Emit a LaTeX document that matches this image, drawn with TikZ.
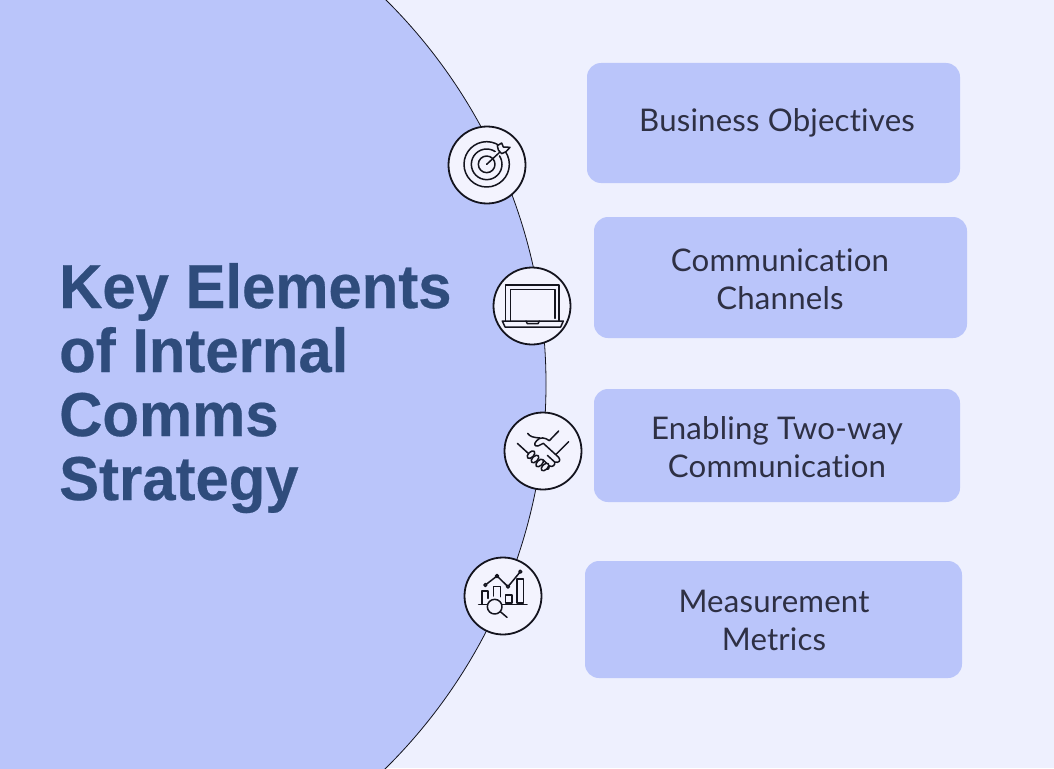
\documentclass[tikz,border=0pt]{standalone}
\usepackage{fontspec}
\setmainfont{Lato}[Ligatures=NoCommon,LetterSpace=0.6]
\newfontfamily\titlefont{Liberation Sans}[BoldFont={Liberation Sans Bold},BoldFeatures={FakeStretch=0.965,FakeBold=0.4}]
\definecolor{bgc}{HTML}{EEF0FE}
\definecolor{bluec}{HTML}{BAC5FA}
\definecolor{titlec}{HTML}{2F4C7C}
\definecolor{bodyc}{HTML}{2E3044}
\definecolor{iconbg}{HTML}{F3F3FE}
\definecolor{inkc}{HTML}{14141E}
\tikzset{
 x=1pt,y=-1pt,
 card/.style={fill=bluec,rounded corners=14pt,draw=none},
 cardtext/.style={font=\fontsize{31.2}{38}\selectfont,text=bodyc,align=center,inner sep=0pt},
 badge/.style={circle,draw=inkc,line width=1.8pt,fill=iconbg,minimum size=77pt,inner sep=0pt},
 titletext/.style={font=\titlefont\bfseries\fontsize{62}{64}\selectfont,text=titlec,align=left,inner sep=0pt,anchor=base west},
 ico/.style={draw=inkc,line width=1.5pt,line join=round,line cap=round}
}
\begin{document}
\begin{tikzpicture}
\useasboundingbox (0,0) rectangle (1054,768);
\fill[bgc] (0,0) rectangle (1054,768);
\begin{scope}
\clip (0,0) rectangle (1054,768);
\draw[fill=bluec,draw=inkc,line width=0.8pt] (5.2,384) circle[radius=540.8];
\end{scope}
\fill[card] (587,63) rectangle (960,183);
\fill[card] (594,217) rectangle (967,338);
\fill[card] (594,389) rectangle (960,502);
\fill[card] (585,561) rectangle (962,678);
\node[cardtext] (t1) at (777,123) {Business Objectives};
\node[cardtext] (t2) at (780,279) {Communication\\Channels};
\node[cardtext] (t3) at (777,447) {Enabling Two-way\\Communication};
\node[cardtext] (t4) at (774,620) {Measurement\\Metrics};
\node[titletext] (h1) at (59,308) {Key Elements};
\node[titletext] (h2) at (59,372) {of Internal};
\node[titletext] (h3) at (59,436) {Comms};
\node[titletext] (h4) at (59,500) {Strategy};
\node[badge] (b1) at (487,165) {};
\node[badge] (b2) at (532,306) {};
\node[badge] (b3) at (543,451) {};
\node[badge] (b4) at (503,596) {};
% target
\begin{scope}[shift={(440,115)},scale=1/3,ico]
\draw (140,148) circle[radius=25];
\draw (140,148) circle[radius=46];
\draw (140,148) circle[radius=68];
\draw[iconbg,line width=5pt] (165,122) -- (195,97);
\draw (140,148) -- (195,97);
\draw[fill=iconbg] (175,105) -- (172,92) -- (185,84) -- (190,96) -- (210,97) -- (198,110) -- (185,116) -- cycle;
\end{scope}
% laptop
\begin{scope}[shift={(440,115)},scale=1/3,ico]
\draw (197,618) -- (197,510) -- (357,510) -- (357,618);
\draw (212,618) -- (212,523) -- (345,523) -- (345,610);
\draw (187,618) -- (370,618) -- (362,636) -- (195,636) -- cycle;
\draw (258,618) -- (262,626) -- (294,626) -- (298,618);
\end{scope}
% handshake
\begin{scope}[shift={(510,420)},scale=1/3,ico]
\draw (22,70) -- (58,103);
\draw (176,65) -- (138,103);
\draw (53,40) .. controls (60,50) and (68,52) .. (90,54);
\draw (146,33) -- (118,62) .. controls (105,52) and (90,50) .. (80,62) .. controls (70,72) and (74,80) .. (84,78) -- (100,70) -- (146,112) .. controls (154,122) and (146,130) .. (134,126) -- (112,106);
\draw (134,126) .. controls (136,136) and (128,142) .. (118,138) -- (100,120);
\draw (118,138) .. controls (120,146) and (114,150) .. (106,146);
\foreach \px/\py in {63/104,75/117,89/129,105/141}
  \draw[fill=iconbg] (\px,\py) ellipse[x radius=14,y radius=8,rotate=45];
\end{scope}
% chart
\begin{scope}[shift={(472,565)},scale=1/3,ico]
\draw (20,118) -- (46,118);
\draw (88,118) -- (165,118);
\draw (30,118) -- (30,78) -- (48,78) -- (48,100);
\draw (65,93) -- (65,65) -- (85,65) -- (85,95);
\draw (100,114) -- (100,90) -- (120,90) -- (120,114) -- cycle;
\draw (135,114) -- (135,42) -- (155,42) -- (155,114) -- cycle;
\draw (40,60) -- (75,33) -- (108,65) -- (145,20);
\foreach \px/\py in {40/60,75/33,108/65,145/20}
  \draw[fill=iconbg] (\px,\py) circle[radius=4.5];
\draw[fill=iconbg] (68,125) circle[radius=22];
\draw (85,140) -- (105,157);
\end{scope}
\end{tikzpicture}
\end{document}
